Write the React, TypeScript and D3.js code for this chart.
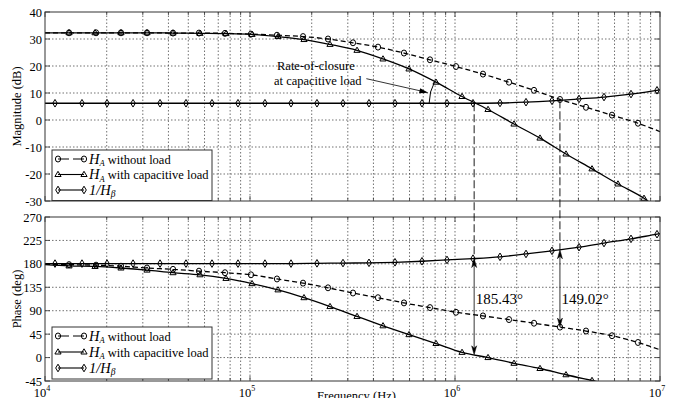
import React from 'react';
import * as d3 from 'd3';

// ---------- data ----------
const freqCircle = [1e4, 1.31e4, 1.774e4, 2.348e4, 3.145e4, 4.211e4, 5.639e4, 7.551e4, 1.011e5, 1.354e5, 1.814e5, 2.402e5, 3.18e5, 4.211e5, 5.639e5, 7.551e5, 1.011e6, 1.369e6, 1.834e6, 2.429e6, 3.252e6, 4.355e6, 5.833e6, 7.81e6, 1e7];
const magCircle = [32.3, 32.3, 32.3, 32.3, 32.3, 32.2, 32.2, 32.1, 31.8, 31.4, 30.9, 30.0, 28.6, 27.0, 24.8, 22.3, 19.8, 17.0, 14.0, 11.0, 7.6, 4.7, 1.8, -1.2, -4.3];
const phaseCircle = [179.5, 178.5, 177.5, 175.5, 172, 169.5, 166, 163, 159, 151, 143, 134, 124, 115, 105, 96, 87, 80, 73, 66, 58.5, 51, 42, 29, 15];

const freqTriangle = [1e4, 1.31e4, 1.754e4, 2.348e4, 3.145e4, 4.211e4, 5.703e4, 7.637e4, 1.023e5, 1.37e5, 1.834e5, 2.456e5, 3.327e5, 4.455e5, 5.965e5, 8.079e5, 1.082e6, 1.449e6, 1.94e6, 2.598e6, 3.479e6, 4.659e6, 6.238e6, 8.356e6, 1e7];
const magTriangle = [32.3, 32.3, 32.3, 32.3, 32.3, 32.2, 32.1, 32.0, 31.7, 30.9, 29.8, 28.0, 25.8, 22.6, 18.9, 14.0, 8.7, 3.9, -1.5, -6.7, -12.6, -18.1, -23.7, -29.0, -33.5];
const phaseTriangle = [178.5, 176, 175, 172, 168, 163, 159, 152, 142, 130, 115, 98, 79, 61, 44, 27, 10, 0, -11, -21, -33, -44, -55, -66, -73];

const freqDiamond = [1e4, 1.119e4, 1.515e4, 2.007e4, 2.688e4, 3.639e4, 4.873e4, 6.525e4, 8.739e4, 1.183e5, 1.585e5, 2.122e5, 2.842e5, 3.806e5, 5.097e5, 6.902e5, 9.141e5, 1.224e6, 1.658e6, 2.22e6, 2.973e6, 4.026e6, 5.332e6, 7.219e6, 9.669e6, 1e7];
const magDiamond = [6.2, 6.2, 6.2, 6.2, 6.2, 6.2, 6.2, 6.2, 6.2, 6.2, 6.2, 6.2, 6.2, 6.2, 6.2, 6.2, 6.2, 6.2, 6.3, 6.6, 7.1, 7.8, 8.5, 9.6, 11.0, 11.2];
const phaseDiamond = [180.5, 180.5, 180.5, 180.5, 180.5, 180.5, 180.5, 180.5, 180.5, 180.5, 180.5, 181, 181.5, 182, 183, 185, 187.5, 190, 193.5, 199, 205, 212, 220, 228, 237, 238];

const magTicks = [-30, -20, -10, 0, 10, 20, 30, 40];
const phaseTicks = [-45, 0, 45, 90, 135, 180, 225, 270];
const decadeTicks = [1e4, 1e5, 1e6, 1e7];
const decadeExponents = ['4', '5', '6', '7'];

const crossFreqs = [1.24e6, 3.25e6];
const marginLabels = ['185.43°', '149.02°'];
const legendLabels = [' without load', ' with capacitive load', ''];

// ---------- layout ----------
const W = 676, H = 398;
const L = 45, R = 660;
const MT = 12, MB = 201;
const PT = 217, PB = 381;
const FONT = "'Liberation Serif', 'Times New Roman', serif";

const x = d3.scaleLog().domain([1e4, 1e7]).range([L, R]);
const yMag = d3.scaleLinear().domain([-30, 40]).range([MB, MT]);
const yPh = d3.scaleLinear().domain([-45, 270]).range([PB, PT]);

const minorFreqs: number[] = [];
[1e4, 1e5, 1e6].forEach((d) => { for (let m = 1; m <= 9; m++) minorFreqs.push(d * m); });
minorFreqs.push(1e7);

function interp(freqs: number[], vals: number[], f: number) {
  const lf = Math.log10(f);
  for (let i = 0; i < freqs.length - 1; i++) {
    const a = Math.log10(freqs[i]), b = Math.log10(freqs[i + 1]);
    if (lf >= a && lf <= b) return vals[i] + (vals[i + 1] - vals[i]) * (lf - a) / (b - a);
  }
  return vals[vals.length - 1];
}

type Kind = 'circle' | 'triangle' | 'diamond';
function Marker({ kind, cx, cy }: { kind: Kind; cx: number; cy: number }) {
  const common = { fill: 'none', stroke: '#000', strokeWidth: 1 };
  if (kind === 'circle') return <ellipse cx={cx} cy={cy} rx={2.6} ry={3} {...common} />;
  if (kind === 'triangle') return <path d={`M${cx},${cy - 3.2}L${cx + 3.1},${cy + 2}L${cx - 3.1},${cy + 2}Z`} {...common} />;
  return <path d={`M${cx},${cy - 3.8}L${cx + 2.3},${cy}L${cx},${cy + 3.8}L${cx - 2.3},${cy}Z`} {...common} />;
}

const seriesDefs = [
  { kind: 'circle' as Kind, freqs: freqCircle, mag: magCircle, ph: phaseCircle, dash: '5,3' },
  { kind: 'triangle' as Kind, freqs: freqTriangle, mag: magTriangle, ph: phaseTriangle, dash: undefined },
  { kind: 'diamond' as Kind, freqs: freqDiamond, mag: magDiamond, ph: phaseDiamond, dash: undefined },
];

function Panel({ top, bottom, yScale, ticks, which, clipId }: any) {
  const line = (freqs: number[], vals: number[]) =>
    d3.line<number>().x((_, i) => x(freqs[i])).y((v) => yScale(v)).curve(d3.curveMonotoneX)(vals) || '';
  return (
    <g>
      {minorFreqs.filter((f) => f > 1e4 && f < 1e7).map((f, i) => (
        <line key={'vg' + i} x1={x(f)} x2={x(f)} y1={top} y2={bottom} stroke="#333" strokeWidth={0.7} strokeDasharray="1.5,2" />
      ))}
      {ticks.slice(1, -1).map((t: number, i: number) => (
        <line key={'hg' + i} x1={L} x2={R} y1={yScale(t)} y2={yScale(t)} stroke="#333" strokeWidth={0.7} strokeDasharray="1.5,2" />
      ))}
      {minorFreqs.map((f, i) => {
        const len = decadeTicks.includes(f) ? 5 : 3;
        return (
          <g key={'xt' + i}>
            <line x1={x(f)} x2={x(f)} y1={bottom} y2={bottom - len} stroke="#333" strokeWidth={0.8} />
            <line x1={x(f)} x2={x(f)} y1={top} y2={top + len} stroke="#333" strokeWidth={0.8} />
          </g>
        );
      })}
      {ticks.map((t: number, i: number) => (
        <g key={'yt' + i}>
          <line x1={L} x2={L + 5} y1={yScale(t)} y2={yScale(t)} stroke="#333" strokeWidth={0.8} />
          <line x1={R} x2={R - 5} y1={yScale(t)} y2={yScale(t)} stroke="#333" strokeWidth={0.8} />
          <text x={42} y={yScale(t) + 4.5} textAnchor="end" fontSize={12.5} fontFamily={FONT}>{t}</text>
        </g>
      ))}
      <g clipPath={`url(#${clipId})`}>
        {seriesDefs.map((s, si) => {
          const vals = which === 'mag' ? s.mag : s.ph;
          return (
            <g key={'s' + si}>
              <path d={line(s.freqs, vals)} fill="none" stroke="#000" strokeWidth={1.3} strokeDasharray={s.dash} />
              {vals.map((v, i) => (i === 0 || i === vals.length - 1) ? null : (
                <Marker key={i} kind={s.kind} cx={x(s.freqs[i])} cy={yScale(v)} />
              ))}
            </g>
          );
        })}
      </g>
      <rect x={L} y={top} width={R - L} height={bottom - top} fill="none" stroke="#333" strokeWidth={1} />
    </g>
  );
}

function Legend({ top, rowGap }: { top: number; rowGap: number }) {
  const bx = 52, bw = 160;
  const bh = rowGap * 3 + 4;
  return (
    <g>
      <rect x={bx} y={top} width={bw} height={bh} fill="#fff" stroke="#333" strokeWidth={1} />
      {seriesDefs.map((s, i) => {
        const cy = top + 9 + i * rowGap;
        return (
          <g key={i}>
            <line x1={58} x2={84} y1={cy} y2={cy} stroke="#000" strokeWidth={1.1} strokeDasharray={s.dash ? '11,4' : undefined} />
            <Marker kind={s.kind} cx={58} cy={cy} />
            <Marker kind={s.kind} cx={84} cy={cy} />
            <text x={89} y={cy + 4.5} fontFamily={FONT} fontSize={12.5}>
              {i < 2 ? (
                <>
                  <tspan fontStyle="italic" fontSize={14.5}>H</tspan>
                  <tspan fontStyle="italic" fontSize={8.5} dy={2.5}>A</tspan>
                  <tspan dy={-2.5}>{legendLabels[i]}</tspan>
                </>
              ) : (
                <>
                  <tspan fontStyle="italic" fontSize={14.5}>1/H</tspan>
                  <tspan fontStyle="italic" fontSize={9.5} dy={2.5}>β</tspan>
                </>
              )}
            </text>
          </g>
        );
      })}
    </g>
  );
}

function Arrowhead({ tx, ty, dir }: { tx: number; ty: number; dir: number }) {
  return <path d={`M${tx},${ty}L${tx - 2.5},${ty - dir * 9}L${tx},${ty - dir * 6.5}L${tx + 2.5},${ty - dir * 9}Z`} fill="#000" stroke="#000" strokeWidth={0.5} />;
}

export default function App() {
  const f1 = crossFreqs[0];
  const cx = x(f1), cy = yMag(interp(freqDiamond, magDiamond, f1));
  const refF = freqTriangle[15];
  const theta = Math.atan2(cy - yMag(magTriangle[15]), cx - x(refF));
  const r = 45;
  const arcStart = [cx - r, cy];
  const arcEnd = [cx - r * Math.cos(theta), cy - r * Math.sin(theta)];
  const tip = [cx - (r + 2) * Math.cos(theta * 0.45), cy - (r + 2) * Math.sin(theta * 0.45)];
  const tail = [tip[0] - 62, tip[1] - 14];
  const ang = Math.atan2(tip[1] - tail[1], tip[0] - tail[0]);
  const ah = 9, aw = 2.6;
  const headPts = [
    [tip[0], tip[1]],
    [tip[0] - ah * Math.cos(ang) + aw * Math.sin(ang), tip[1] - ah * Math.sin(ang) - aw * Math.cos(ang)],
    [tip[0] - ah * Math.cos(ang) - aw * Math.sin(ang), tip[1] - ah * Math.sin(ang) + aw * Math.cos(ang)],
  ];

  const marginTargets = [
    { freqs: freqTriangle, ph: phaseTriangle },
    { freqs: freqCircle, ph: phaseCircle },
  ];

  return (
    <div style={{ position: 'absolute', left: 0, top: 0, width: W, height: H, background: '#fff' }}>
      <svg width={W} height={H} style={{ display: 'block' }}>
        <defs>
          <clipPath id="clipMag"><rect x={L} y={MT} width={R - L} height={MB - MT} /></clipPath>
          <clipPath id="clipPh"><rect x={L} y={PT} width={R - L} height={PB - PT} /></clipPath>
        </defs>
        <rect x={0} y={0} width={W} height={H} fill="#fff" />
        <Panel top={MT} bottom={MB} yScale={yMag} ticks={magTicks} which="mag" clipId="clipMag" />
        <Panel top={PT} bottom={PB} yScale={yPh} ticks={phaseTicks} which="ph" clipId="clipPh" />

        <text transform={`translate(21,${(MT + MB) / 2}) rotate(-90)`} textAnchor="middle" fontFamily={FONT} fontSize={12.5}>Magnitude (dB)</text>
        <text transform={`translate(21,${(PT + PB) / 2}) rotate(-90)`} textAnchor="middle" fontFamily={FONT} fontSize={12.5}>Phase (deg)</text>
        {decadeTicks.map((d, i) => (
          <text key={i} x={x(d) - 3} y={396.5} textAnchor="middle" fontFamily={FONT} fontSize={12.5}>
            10<tspan fontSize={8} dy={-6}>{decadeExponents[i]}</tspan>
          </text>
        ))}
        <text x={(L + R) / 2 + 4} y={400} textAnchor="middle" fontFamily={FONT} fontSize={12.5}>Frequency (Hz)</text>

        {crossFreqs.map((f, i) => {
          const xx = x(f);
          const yStart = yMag(interp(freqDiamond, magDiamond, f));
          const yTop = yPh(interp(freqDiamond, phaseDiamond, f));
          const yBot = yPh(interp(marginTargets[i].freqs, marginTargets[i].ph, f));
          return (
            <g key={'cf' + i}>
              <line x1={xx} x2={xx} y1={yStart} y2={yTop} stroke="#000" strokeWidth={0.9} strokeDasharray="8,3" />
              <line x1={xx} x2={xx} y1={yTop + 6} y2={yBot - 6} stroke="#000" strokeWidth={0.8} />
              <Arrowhead tx={xx} ty={yTop} dir={-1} />
              <Arrowhead tx={xx} ty={yBot} dir={1} />
              <text x={xx + 1.5} y={304} fontFamily={FONT} fontSize={15}>{marginLabels[i]}</text>
            </g>
          );
        })}

        <path d={`M${arcStart[0]},${arcStart[1]} A${r},${r} 0 0 1 ${arcEnd[0]},${arcEnd[1]}`} fill="none" stroke="#000" strokeWidth={1} />
        <line x1={tail[0]} y1={tail[1]} x2={tip[0] - 6 * Math.cos(ang)} y2={tip[1] - 6 * Math.sin(ang)} stroke="#000" strokeWidth={0.8} />
        <path d={`M${headPts.map((p) => p.join(',')).join('L')}Z`} fill="#000" />
        <text x={277} y={70} fontFamily={FONT} fontSize={12.5}>Rate-of-closure</text>
        <text x={274} y={85} fontFamily={FONT} fontSize={12.5}>at capacitive load</text>

        <Legend top={150} rowGap={15.5} />
        <Legend top={327} rowGap={16} />
      </svg>
    </div>
  );
}
